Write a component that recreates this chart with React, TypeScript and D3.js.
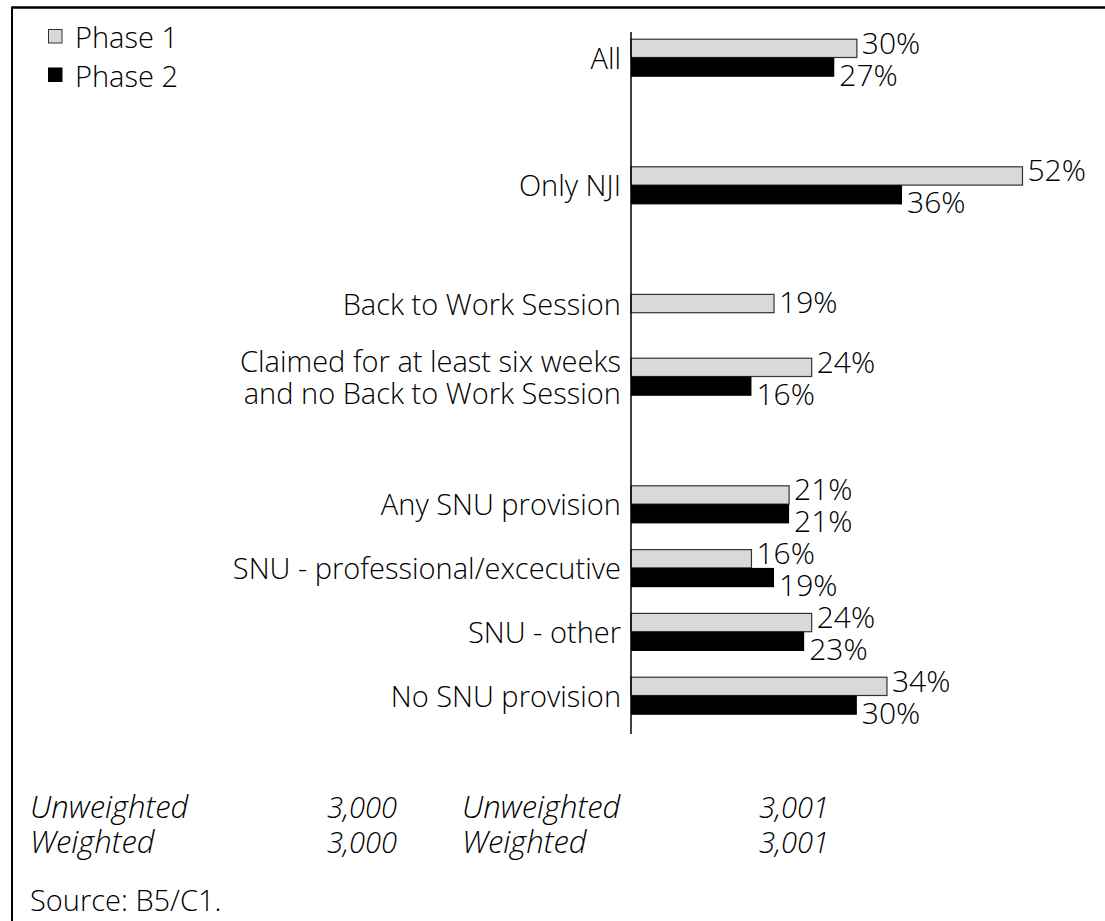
import React from 'react';
import * as d3 from 'd3';

// canvas
const width = 1105;
const height = 921;

// data
const categories = [
  'All',
  'Only NJI',
  'Back to Work Session',
  'Claimed for at least six weeks|and no Back to Work Session',
  'Any SNU provision',
  'SNU - professional/excecutive',
  'SNU - other',
  'No SNU provision',
];
// groups of categories, a blank row goes between groups
const groups = [[0], [1], [2, 3], [4, 5, 6, 7]];
const phase1 = [30, 52, 19, 24, 21, 16, 24, 34];
const phase2 = [27, 36, null, 16, 21, 19, 23, 30];
const seriesNames = ['Phase 1', 'Phase 2'];
const footerLabels = ['Unweighted', 'Weighted'];
const footerPhase1 = ['3,000', '3,000'];
const footerPhase2 = ['3,001', '3,001'];
const sourceNote = 'Source: B5/C1.';

// styles
const font = '"Open Sans", "Noto Sans", sans-serif';
const fontSize = 29;
const valueSize = 30;
const weight = 300;
const grayFill = '#d9d9d9';
const grayStroke = '#333';
const blackFill = '#000';

// layout
const axisX = 631;
const barH = 18.3;

// row slots with spacers between groups
const slots: string[] = [];
groups.forEach((g, gi) => {
  if (gi > 0) slots.push('gap' + gi);
  g.forEach((ci) => slots.push(categories[ci]));
});

const y = d3.scalePoint<string>().domain(slots).range([57.5, 695.5]);
const x = d3.scaleLinear().domain([0, 52]).range([axisX, 1022.5]);

const App = () => (
  <svg width={width} height={height} style={{ position: 'absolute', left: 0, top: 0 }}>
    <rect width={width} height={height} fill="#fff" />
    {/* frame */}
    <line x1={12} x2={width} y1={7.5} y2={7.5} stroke="#000" strokeWidth={2.5} />
    <line x1={12} x2={12} y1={6.5} y2={height} stroke="#000" strokeWidth={2} />

    {/* legend */}
    <g fontFamily={font} fontSize={fontSize} fontWeight={weight}>
      <rect x={48.5} y={29.5} width={13.5} height={13.5} fill={grayFill} stroke={grayStroke} strokeWidth={1} />
      <text x={75} y={48}>{seriesNames[0]}</text>
      <rect x={48} y={67.5} width={14.5} height={14.5} fill={blackFill} />
      <text x={75} y={87}>{seriesNames[1]}</text>
    </g>

    {/* bars */}
    <g fontFamily={font} fontSize={fontSize} fontWeight={weight}>
      {categories.map((c, i) => {
        const cy = y(c) as number;
        const p2 = phase2[i];
        const labelY = p2 == null ? cy - barH / 2 : cy;
        const lines = c.split('|');
        return (
          <g key={c}>
            <rect
              x={x(0)}
              y={cy - barH}
              width={x(phase1[i]) - x(0)}
              height={barH}
              fill={grayFill}
              stroke={grayStroke}
              strokeWidth={1.2}
            />
            <text x={x(phase1[i]) + 5} y={p2 == null ? cy : cy - 4} fontSize={valueSize}>{phase1[i]}%</text>
            {p2 != null && (
              <>
                <rect x={x(0)} y={cy} width={x(p2) - x(0)} height={barH + 1} fill={blackFill} />
                <text x={x(p2) + 5} y={cy + barH + 10} fontSize={valueSize}>{p2}%</text>
              </>
            )}
            <text textAnchor="end" x={axisX - 10} y={labelY + 11 - (lines.length - 1) * 16}>
              {lines.map((l, li) => (
                <tspan key={li} x={axisX - 10} dy={li === 0 ? 0 : 32}>{l}</tspan>
              ))}
            </text>
          </g>
        );
      })}
    </g>

    {/* axis */}
    <line x1={axisX} x2={axisX} y1={32} y2={734} stroke="#000" strokeWidth={1.5} />

    {/* footer */}
    <g fontFamily={font} fontWeight={weight} fontStyle="italic">
      {footerLabels.map((l, i) => (
        <g key={l}>
          <text x={30} y={818 + i * 35} fontSize={31}>{l}</text>
          <text x={397} y={818 + i * 35} fontSize={29} textAnchor="end">{footerPhase1[i]}</text>
          <text x={462} y={818 + i * 35} fontSize={31}>{l}</text>
          <text x={829} y={818 + i * 35} fontSize={29} textAnchor="end">{footerPhase2[i]}</text>
        </g>
      ))}
    </g>
    <text x={30} y={911} fontFamily={font} fontWeight={weight} fontSize={fontSize}>{sourceNote}</text>
  </svg>
);

export default App;
